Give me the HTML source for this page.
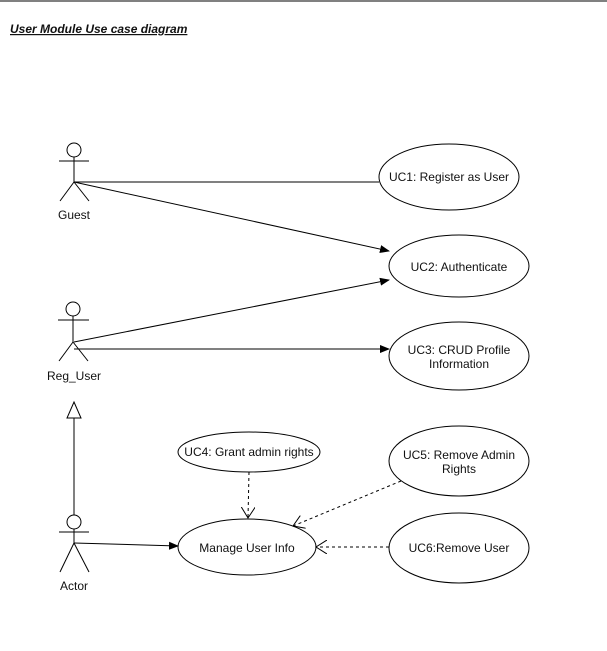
<!DOCTYPE html>
<html><head><style>
html,body{margin:0;padding:0;background:#fff;width:607px;height:651px;overflow:hidden}
svg{display:block}
text{font-family:"Liberation Sans",Arial,sans-serif;font-size:12px;fill:#111}
</style></head><body>
<svg width="607" height="651" viewBox="0 0 607 651">
<defs>
<marker id="fa" markerWidth="10" markerHeight="10" refX="9" refY="5" orient="auto" markerUnits="userSpaceOnUse"><path d="M0,1 L10,5 L0,9 Z" fill="#000"/></marker>
<marker id="oa" markerWidth="12" markerHeight="14" refX="11" refY="7" orient="auto" markerUnits="userSpaceOnUse"><path d="M0,0 L11,7 L0,14" fill="none" stroke="#000" stroke-width="1"/></marker>
</defs>
<line x1="0" y1="1" x2="607" y2="1" stroke="#000" stroke-width="1"/>
<text x="10" y="33" style="font-weight:bold;font-style:italic;text-decoration:underline">User Module Use case diagram</text>
<g stroke="#000" stroke-width="1" fill="#fff">
<!-- Guest -->
<circle cx="74" cy="150" r="7"/>
<line x1="59" y1="161" x2="89" y2="161"/><line x1="74" y1="157" x2="74" y2="182"/>
<line x1="74" y1="182" x2="60" y2="201"/><line x1="74" y1="182" x2="89" y2="201"/>
<!-- Reg_User -->
<circle cx="73" cy="309" r="7"/>
<line x1="58" y1="320" x2="89" y2="320"/><line x1="73" y1="316" x2="73" y2="342"/>
<line x1="73" y1="342" x2="59" y2="361"/><line x1="73" y1="342" x2="88" y2="361"/>
<!-- Actor -->
<line x1="74" y1="418" x2="74" y2="515"/>
<path d="M74,402 L81,418 L67,418 Z"/>
<circle cx="74" cy="522" r="7"/>
<line x1="59" y1="532" x2="89" y2="532"/><line x1="74" y1="529" x2="74" y2="543"/>
<line x1="74" y1="543" x2="60" y2="572"/><line x1="74" y1="543" x2="89" y2="572"/>
<!-- ellipses -->
<ellipse cx="449" cy="177" rx="70" ry="33"/>
<ellipse cx="459" cy="266" rx="70" ry="31"/>
<ellipse cx="459" cy="356" rx="70" ry="34"/>
<ellipse cx="249" cy="452" rx="71" ry="20"/>
<ellipse cx="459" cy="461" rx="70" ry="35"/>
<ellipse cx="459" cy="548" rx="70" ry="35"/>
<ellipse cx="247" cy="547" rx="69" ry="28"/>
<!-- connectors -->
<line x1="74" y1="182" x2="379" y2="182"/>
<line x1="74" y1="182" x2="389" y2="251" marker-end="url(#fa)"/>
<line x1="74" y1="342" x2="389" y2="280" marker-end="url(#fa)"/>
<line x1="74" y1="349" x2="389" y2="349" marker-end="url(#fa)"/>
<line x1="74" y1="543" x2="178" y2="546" marker-end="url(#fa)"/>
<line x1="249" y1="472" x2="248" y2="518" stroke-dasharray="3,3" marker-end="url(#oa)"/>
<line x1="401" y1="481" x2="293" y2="526" stroke-dasharray="3,3" marker-end="url(#oa)"/>
<line x1="389" y1="547" x2="316" y2="547" stroke-dasharray="3,3" marker-end="url(#oa)"/>
</g>
<text x="74" y="219" text-anchor="middle">Guest</text>
<text x="74" y="380" text-anchor="middle">Reg_User</text>
<text x="74" y="590" text-anchor="middle">Actor</text>
<text x="449" y="181" text-anchor="middle">UC1: Register as User</text>
<text x="459" y="271" text-anchor="middle">UC2: Authenticate</text>
<text x="459" y="354" text-anchor="middle">UC3: CRUD Profile</text>
<text x="459" y="368" text-anchor="middle">Information</text>
<text x="249" y="456" text-anchor="middle">UC4: Grant admin rights</text>
<text x="459" y="459" text-anchor="middle">UC5: Remove Admin</text>
<text x="459" y="473" text-anchor="middle">Rights</text>
<text x="459" y="552" text-anchor="middle">UC6:Remove User</text>
<text x="247" y="552" text-anchor="middle">Manage User Info</text>
</svg>
</body></html>
